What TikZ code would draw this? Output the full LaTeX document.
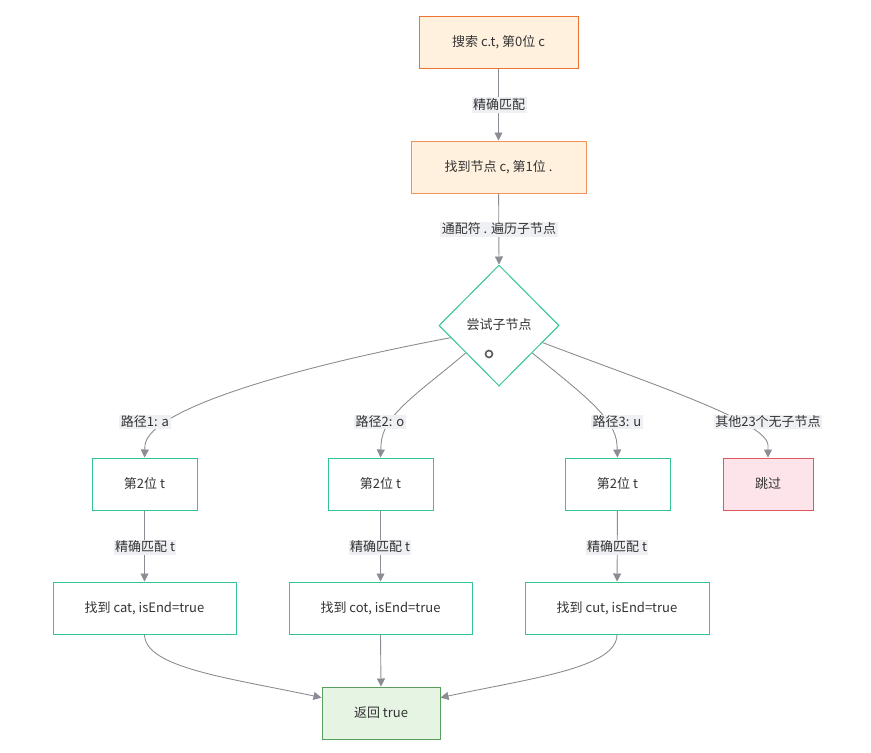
\documentclass[tikz,border=0pt]{standalone}
\usepackage{fontspec}
\setmainfont{Noto Sans CJK SC}
\usetikzlibrary{arrows.meta,shapes.geometric,calc,backgrounds}
\definecolor{txt}{HTML}{333333}
\definecolor{ofill}{HTML}{FFF1DE}
\definecolor{odraw}{HTML}{EC7430}
\definecolor{odrawb}{HTML}{F2935A}
\definecolor{gdraw}{HTML}{33C492}
\definecolor{pfill}{HTML}{FCE4EA}
\definecolor{pdraw}{HTML}{E0585E}
\definecolor{rfill}{HTML}{E6F4E4}
\definecolor{rdraw}{HTML}{5A9E5C}
\definecolor{lbg}{HTML}{EEF0F3}
\definecolor{ln}{HTML}{8A8D93}
\tikzset{
  base/.style={font=\fontsize{13}{16}\selectfont, text=txt},
  box/.style={base, draw, line width=1pt, minimum height=52pt, inner sep=0pt},
  obox/.style={box, fill=ofill, draw=odraw},
  gbox/.style={box, fill=white, draw=gdraw},
  pbox/.style={box, fill=pfill, draw=pdraw},
  rbox/.style={box, fill=rfill, draw=rdraw},
  elabel/.style={base, fill=lbg, inner sep=1.5pt},
  edge/.style={draw=ln, line width=0.9pt, -{Triangle[length=8pt,width=8pt]}},
}
\begin{document}
\begin{tikzpicture}[x=1pt,y=-1pt]
\useasboundingbox (0,0) rectangle (871,753);
% nodes
\node[obox, minimum width=159pt] (n1) at (498.5,42) {搜索 c.t, 第0位 c};
\node[obox, draw=odrawb, minimum width=175pt] (n2) at (498.5,167) {找到节点 c, 第1位 .};
\node[base, diamond, draw=gdraw, line width=1pt, fill=white, minimum width=120pt, minimum height=121pt, inner sep=0pt] (d) at (499,325.5) {};
\node[base] (dt) at (499,325) {尝试子节点};
\node[circle, draw=black!65, line width=1.6pt, minimum size=7pt, inner sep=0pt] (ring) at (489,354) {};

\node[gbox, minimum width=105pt] (b1) at (144.5,484) {第2位 t};
\node[gbox, minimum width=105pt] (b2) at (380.5,484) {第2位 t};
\node[gbox, minimum width=105pt] (b3) at (617.5,484) {第2位 t};
\node[pbox, minimum width=90pt] (b4) at (768,484) {跳过};

\node[gbox, minimum width=183pt] (c1) at (144.5,608) {找到 cat, isEnd=true};
\node[gbox, minimum width=183pt] (c2) at (380.5,608) {找到 cot, isEnd=true};
\node[gbox, minimum width=184pt] (c3) at (617,608) {找到 cut, isEnd=true};

\node[rbox, minimum width=118pt] (r) at (381,713) {返回 true};

% edge labels
\node[elabel] (l1) at (499,105) {精确匹配};
\node[elabel] (l2) at (499,229) {通配符 . 遍历子节点};
\node[elabel] (p1) at (145,422) {路径1: a};
\node[elabel] (p2) at (380,422) {路径2: o};
\node[elabel] (p3) at (617,422) {路径3: u};
\node[elabel] (p4) at (768,422) {其他23个无子节点};
\node[elabel] (m1) at (145,547) {精确匹配 t};
\node[elabel] (m2) at (380,547) {精确匹配 t};
\node[elabel] (m3) at (617,547) {精确匹配 t};

\coordinate (s1) at ($(d.west)!0.2!(d.south)$);
\coordinate (s2) at ($(d.west)!0.45!(d.south)$);
\coordinate (s3) at ($(d.east)!0.45!(d.south)$);
\coordinate (s4) at ($(d.east)!0.28!(d.south)$);
\coordinate (rl) at ($(r.north west)!0.21!(r.south west)$);
\coordinate (rr) at ($(r.north east)!0.21!(r.south east)$);

\begin{pgfonlayer}{background}
\draw[edge] (n1) -- (n2);
\draw[edge] (n2) -- (d.north);
\draw[edge] (s1) .. controls (300,366) and (150,408) .. (145,445) -- (b1.north);
\draw[edge] (s2) .. controls (420,392) and (382,415) .. (381,445) -- (b2.north);
\draw[edge] (s3) .. controls (580,392) and (616,418) .. (617,445) -- (b3.north);
\draw[edge] (s4) .. controls (660,387) and (766,422) .. (768,445) -- (b4.north);
\draw[edge] (b1) -- (c1);
\draw[edge] (b2) -- (c2);
\draw[edge] (b3) -- (c3);
\draw[edge] (c1.south) .. controls (145,668) and (230,678) .. (rl);
\draw[edge] (c2.south) -- (r.north);
\draw[edge] (c3.south) .. controls (617,668) and (532,678) .. (rr);
\end{pgfonlayer}
\end{tikzpicture}
\end{document}
